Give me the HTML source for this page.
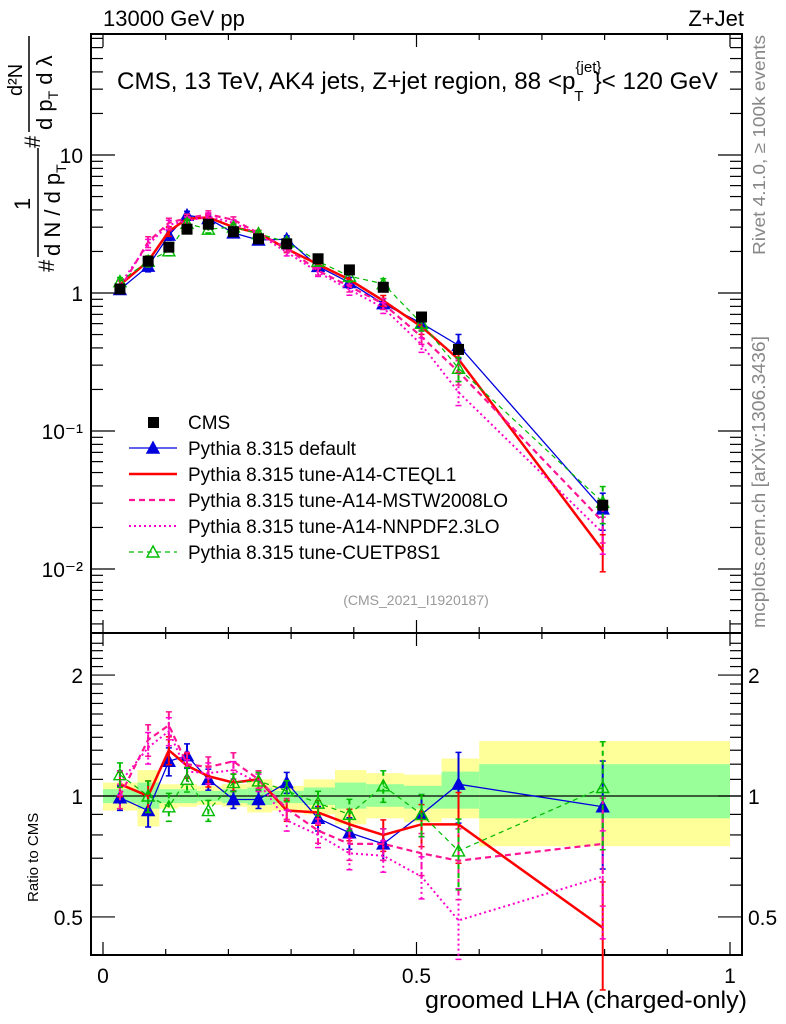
<!DOCTYPE html>
<html><head><meta charset="utf-8"><style>
html,body{margin:0;padding:0;background:#fff;}
svg{display:block;font-family:"Liberation Sans",sans-serif;}
</style></head><body>
<svg id="chart" width="786" height="1024" viewBox="0 0 786 1024" xmlns="http://www.w3.org/2000/svg">
<g id="bands"></g>
<g id="ratio1"></g>
<g id="frames"></g>
<g id="series"></g>
<g id="labels">
<text x="103" y="26" font-size="22">13000 GeV pp</text>
<text x="744" y="26" font-size="22" text-anchor="end">Z+Jet</text>
<text x="117" y="89" font-size="24" textLength="601" lengthAdjust="spacingAndGlyphs">CMS, 13 TeV, AK4 jets, Z+jet region, 88 &lt;p<tspan font-size="15" dy="-17">{jet}</tspan><tspan font-size="15" dx="-27" dy="29">T</tspan><tspan dy="-12" dx="10">}&lt; 120 GeV</tspan></text>
<text x="416" y="605" font-size="14" fill="#999" text-anchor="middle">(CMS_2021_I1920187)</text>
<text x="0" y="0" transform="translate(765,255) rotate(-90)" font-size="17.5" fill="#888" textLength="220" lengthAdjust="spacingAndGlyphs">Rivet 4.1.0, ≥ 100k events</text>
<text transform="translate(765,628) rotate(-90)" font-size="18" fill="#888" textLength="292" lengthAdjust="spacingAndGlyphs">mcplots.cern.ch [arXiv:1306.3436]</text>
<text x="747" y="1008" font-size="24" text-anchor="end" textLength="322" lengthAdjust="spacingAndGlyphs">groomed LHA (charged-only)</text>
<text transform="translate(38,902) rotate(-90)" font-size="15">Ratio to CMS</text>
<g transform="translate(54,272) rotate(-90)" font-size="22">
<text x="0" y="0">#</text>
<text x="62" y="-24">1</text>
<line x1="15" y1="-16" x2="124" y2="-16" stroke="#000" stroke-width="1.5"/>
<text x="16" y="6">d N / d p<tspan font-size="14" dy="6">T</tspan></text>
<text x="124" y="-14">#</text>
<text x="176" y="-32" font-size="20">d²N</text>
<line x1="140" y1="-25" x2="236" y2="-25" stroke="#000" stroke-width="1.5"/>
<text x="142" y="-2">d p<tspan font-size="14" dy="6">T</tspan><tspan dy="-6"> d λ</tspan></text>
</g>
</g>
<g id="legend"></g>
</svg>
<script>
const categories=[0.027,0.072,0.105,0.134,0.168,0.208,0.248,0.293,0.343,0.393,0.447,0.508,0.567,0.797];
const binEdges=[0,0.055,0.09,0.12,0.15,0.19,0.23,0.27,0.32,0.37,0.42,0.48,0.54,0.6,1.0];
const cmsValues=[1.07,1.7,2.15,2.9,3.15,2.78,2.47,2.27,1.77,1.47,1.1,0.67,0.39,0.029];
const yellowLo=[0.92,0.84,0.93,0.94,0.95,0.94,0.91,0.92,0.90,0.85,0.88,0.86,0.88,0.75];
const yellowHi=[1.08,1.16,1.07,1.07,1.06,1.07,1.10,1.06,1.10,1.16,1.14,1.13,1.24,1.37];
const greenLo=[0.96,0.93,0.96,0.96,0.97,0.96,0.95,0.96,0.95,0.93,0.94,0.93,0.93,0.88];
const greenHi=[1.04,1.08,1.04,1.04,1.03,1.04,1.05,1.03,1.05,1.08,1.07,1.06,1.15,1.20];
const ratioDefault=[0.99,0.92,1.22,1.26,1.1,0.98,0.98,1.08,0.88,0.81,0.76,0.9,1.07,0.94];
const ratioCTEQ=[1.07,1.0,1.30,1.19,1.12,1.08,1.10,0.92,0.91,0.85,0.80,0.85,0.85,0.47];
const ratioMSTW=[1.0,1.38,1.50,1.20,1.18,1.22,1.10,0.93,0.82,0.76,0.76,0.72,0.69,0.76];
const ratioNNPDF=[1.08,1.32,1.45,1.15,1.14,1.16,1.08,0.87,0.80,0.72,0.71,0.63,0.49,0.63];
const ratioCUET=[1.13,1.0,0.94,1.10,0.92,1.08,1.09,1.03,0.96,0.90,1.06,0.90,0.73,1.05];
const ratioErr=[0.07,0.09,0.08,0.07,0.06,0.05,0.05,0.06,0.07,0.09,0.09,0.12,0.2,0.3];
const yTicks=[0.01,0.1,1,10];
const yTickLabels=["10⁻²","10⁻¹","1","10"];
const rTicks=[0.5,1,2];
const rTickLabels=["0.5","1","2"];
const xTicks=[0,0.5,1];
const xTickLabels=["0","0.5","1"];

const NS="http://www.w3.org/2000/svg";
const X0=91,X1=742,MT=34,MB=633,RT=633,RB=955;
function xs(v){return 103+627*v;}
function ys(v){return 293-138*Math.log10(v);}
function rs(v){return 796-401.7*Math.log10(v);}
function mk(tag,attrs,parent){const e=document.createElementNS(NS,tag);for(const k in attrs)e.setAttribute(k,attrs[k]);parent.appendChild(e);return e;}

const bands=document.getElementById('bands');
for(let i=0;i<categories.length;i++){
  const y=mk('rect',{x:xs(binEdges[i]),y:rs(yellowHi[i]),width:xs(binEdges[i+1])-xs(binEdges[i]),height:rs(yellowLo[i])-rs(yellowHi[i]),fill:'#ffff99'},bands);
  
  
  const g=mk('rect',{x:xs(binEdges[i]),y:rs(greenHi[i]),width:xs(binEdges[i+1])-xs(binEdges[i]),height:rs(greenLo[i])-rs(greenHi[i]),fill:'#99ff99'},bands);
  
  
}
const rl=mk('line',{x1:X0,x2:X1,y1:rs(1),y2:rs(1),stroke:'#000','stroke-width':1.2},document.getElementById('ratio1'));



const fr=document.getElementById('frames');
mk('rect',{x:X0,y:MT,width:X1-X0,height:MB-MT,fill:'none',stroke:'#000','stroke-width':2},fr);
mk('rect',{x:X0,y:RT,width:X1-X0,height:RB-RT,fill:'none',stroke:'#000','stroke-width':2},fr);
for(let v=0;v<=1.0001;v+=0.1){
  const big=Math.abs(v-Math.round(v*2)/2)<1e-6;const L=big?13:6;
  for(const [yb,yt] of [[MB,MT],[RB,RT]]){
    mk('line',{x1:xs(v),x2:xs(v),y1:yb,y2:yb-L,stroke:'#000','stroke-width':1.2},fr);
    mk('line',{x1:xs(v),x2:xs(v),y1:yt,y2:yt+L,stroke:'#000','stroke-width':1.2},fr);
  }
}
for(let i=0;i<xTicks.length;i++){
  const t=mk('text',{x:xs(xTicks[i]),y:983,'font-size':21,'text-anchor':'middle'},fr);t.textContent=xTickLabels[i];
  
  
}
for(let d=-3;d<=1;d++){for(let m=1;m<10;m++){const v=m*Math.pow(10,d);const y=ys(v);if(y<MT||y>MB)continue;const L=m==1?24:12;
  mk('line',{x1:X0,x2:X0+L,y1:y,y2:y,stroke:'#000','stroke-width':1.2},fr);
  mk('line',{x1:X1,x2:X1-L,y1:y,y2:y,stroke:'#000','stroke-width':1.2},fr);}}
for(let i=0;i<yTicks.length;i++){
  const t=mk('text',{x:83,y:ys(yTicks[i])+8,'font-size':21,'text-anchor':'end'},fr);t.textContent=yTickLabels[i];
  
  
}
for(let v=0.4;v<=2.5;v+=0.1){const y=rs(v);if(y<RT||y>RB)continue;const big=[0.5,1,2].some(b=>Math.abs(b-v)<1e-6);const L=big?24:12;
  mk('line',{x1:X0,x2:X0+L,y1:y,y2:y,stroke:'#000','stroke-width':1.2},fr);
  mk('line',{x1:X1,x2:X1-L,y1:y,y2:y,stroke:'#000','stroke-width':1.2},fr);}
for(let i=0;i<rTicks.length;i++){
  const t=mk('text',{x:83,y:rs(rTicks[i])+8,'font-size':21,'text-anchor':'end'},fr);t.textContent=rTickLabels[i];
  
  
  const t2=mk('text',{x:748,y:rs(rTicks[i])+8,'font-size':21},fr);t2.textContent=rTickLabels[i];
  
  
}

const series=[
 {name:'default',r:ratioDefault,color:'#0000dd',w:1.3,dash:'',marker:'tri'},
 {name:'cteql1',r:ratioCTEQ,color:'#ff0000',w:2.5,dash:'',marker:''},
 {name:'mstw',r:ratioMSTW,color:'#ff1493',w:2.2,dash:'6,4',marker:''},
 {name:'nnpdf',r:ratioNNPDF,color:'#ff00cc',w:2,dash:'2,3',marker:''},
 {name:'cuetp8s1',r:ratioCUET,color:'#00bb00',w:1.2,dash:'5,4',marker:'otri'}
];
const sg=document.getElementById('series');
function tri(g,x,y,c,open){const p=mk('polygon',{points:`${x},${y-6} ${x-6},${y+5} ${x+6},${y+5}`,fill:open?'none':c,stroke:c,'stroke-width':1.4},g);return p;}
for(const s of series){
  const g=mk('g',{},sg);
  
  
  const mp=[],rp=[];
  for(let i=0;i<categories.length;i++){
    const x=xs(categories[i]);const mv=cmsValues[i]*s.r[i];const e=ratioErr[i];
    mp.push(x+','+ys(mv));rp.push(x+','+rs(s.r[i]));
    mk('line',{x1:x,x2:x,y1:ys(mv*(1+e)),y2:ys(mv*(1-e)),stroke:s.color,'stroke-width':2,'stroke-dasharray':s.dash},g);
    mk('line',{x1:x,x2:x,y1:rs(s.r[i]*(1+e)),y2:rs(s.r[i]*(1-e)),stroke:s.color,'stroke-width':2,'stroke-dasharray':s.dash},g);
    for(const yy of [ys(mv*(1+e)),ys(mv*(1-e)),rs(s.r[i]*(1+e)),rs(s.r[i]*(1-e))])mk('line',{x1:x-3,x2:x+3,y1:yy,y2:yy,stroke:s.color,'stroke-width':1.5},g);
  }
  const l1=mk('polyline',{points:mp.join(' '),fill:'none',stroke:s.color,'stroke-width':s.w,'stroke-dasharray':s.dash},g);
  
  
  const l2=mk('polyline',{points:rp.join(' '),fill:'none',stroke:s.color,'stroke-width':s.w,'stroke-dasharray':s.dash},g);
  
  
  if(s.marker){for(let i=0;i<categories.length;i++){const x=xs(categories[i]);
    const a=tri(g,x,ys(cmsValues[i]*s.r[i]),s.color,s.marker=='otri');
    
    
    const b=tri(g,x,rs(s.r[i]),s.color,s.marker=='otri');
    
    }}
}
const cg=mk('g',{},sg);


for(let i=0;i<categories.length;i++){const x=xs(categories[i]),y=ys(cmsValues[i]);
  const r=mk('rect',{x:x-5.5,y:y-5.5,width:11,height:11,fill:'#000'},cg);
  
  }

const lg=document.getElementById('legend');
const legItems=[['CMS','#000','',0,'sq'],['Pythia 8.315 default','#0000dd','',1.3,'tri'],['Pythia 8.315 tune-A14-CTEQL1','#ff0000','',2.5,''],['Pythia 8.315 tune-A14-MSTW2008LO','#ff1493','6,4',2.2,''],['Pythia 8.315 tune-A14-NNPDF2.3LO','#ff00cc','2,3',2,''],['Pythia 8.315 tune-CUETP8S1','#00bb00','5,4',1.2,'otri']];
legItems.forEach((it,i)=>{const y=422+26*i;const g=mk('g',{},lg);
  
  
  if(it[3])mk('line',{x1:129,x2:177,y1:y,y2:y,stroke:it[1],'stroke-width':it[3],'stroke-dasharray':it[2]},g);
  if(it[4]=='sq')mk('rect',{x:148,y:y-5,width:11,height:11,fill:'#000'},g);
  if(it[4]=='tri')tri(g,153,y,it[1],false);
  if(it[4]=='otri')tri(g,153,y,it[1],true);
  const t=mk('text',{x:188,y:y+7,'font-size':19},g);t.textContent=it[0];});
</script>
</body></html>
